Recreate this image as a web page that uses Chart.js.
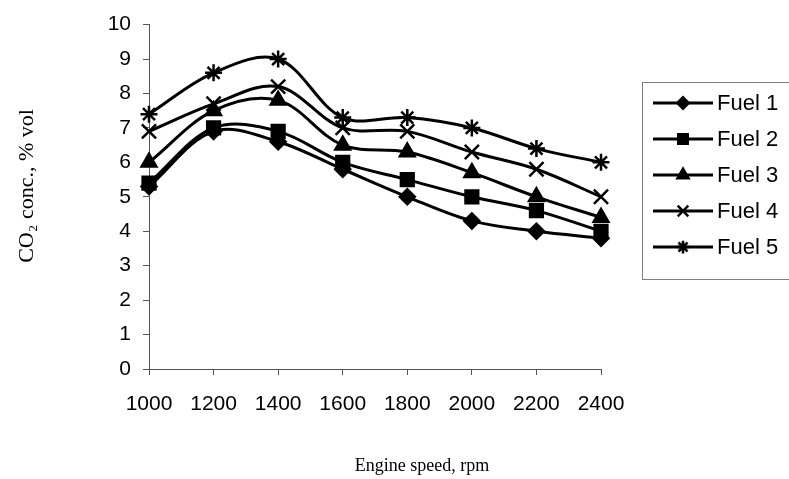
<!DOCTYPE html>
<html>
<head>
<meta charset="utf-8">
<script src="https://cdn.jsdelivr.net/npm/chart.js@4"></script>
<style>
  html, body { margin: 0; padding: 0; background: #fff; }
  #wrap { width: 789px; height: 479px; }
</style>
</head>
<body>
<div id="wrap"><canvas id="grafico" width="789" height="479"></canvas></div>
<script>
// datos
const rpm = [1000, 1200, 1400, 1600, 1800, 2000, 2200, 2400];
const fuel1 = [5.3, 6.9, 6.6, 5.8, 5.0, 4.3, 4.0, 3.8];
const fuel2 = [5.4, 7.0, 6.9, 6.0, 5.5, 5.0, 4.6, 4.0];
const fuel3 = [6.0, 7.5, 7.8, 6.5, 6.3, 5.7, 5.0, 4.4];
const fuel4 = [6.9, 7.7, 8.2, 7.0, 6.9, 6.3, 5.8, 5.0];
const fuel5 = [7.4, 8.6, 9.0, 7.3, 7.3, 7.0, 6.4, 6.0];
const nombres = ['Fuel 1', 'Fuel 2', 'Fuel 3', 'Fuel 4', 'Fuel 5'];
const marcas = ['rectRot', 'rect', 'triangle', 'crossRot', 'star'];
const tamanos = [7.5, 9, 8.5, 10, 8.5];

const series = [fuel1, fuel2, fuel3, fuel4, fuel5];

const datasets = series.map((valores, i) => ({
    label: nombres[i],
    data: valores.map((v, j) => ({ x: rpm[j], y: v })),
    borderColor: '#000',
    backgroundColor: '#000',
    borderWidth: 3,
    tension: 0.35,
    pointStyle: marcas[i],
    pointRadius: tamanos[i],
    pointBorderWidth: 2.5,
    clip: false
}));

// titulos de ejes y leyenda dibujados a mano
const extras = {
    id: 'extras',
    afterDraw(chart) {
        const ctx = chart.ctx;
        ctx.save();
        ctx.fillStyle = '#000';
        ctx.font = '18px "Liberation Serif", "Times New Roman", serif';
        ctx.textAlign = 'center';
        ctx.textBaseline = 'middle';
        ctx.fillText('Engine speed, rpm', 422, 466);

        ctx.font = '22px "Liberation Serif", "Times New Roman", serif';
        ctx.translate(27, 186);
        ctx.rotate(-Math.PI / 2);
        ctx.fillText('CO\u2082 conc., % vol', 0, 0);
        ctx.restore();

        // leyenda
        ctx.save();
        ctx.strokeStyle = '#808080';
        ctx.lineWidth = 1;
        ctx.strokeRect(642.5, 82.5, 200, 197);
        chart.data.datasets.forEach((ds, i) => {
            const y = 103 + i * 36;
            ctx.strokeStyle = '#000';
            ctx.fillStyle = '#000';
            ctx.lineWidth = 3;
            ctx.beginPath();
            ctx.moveTo(653, y);
            ctx.lineTo(713, y);
            ctx.stroke();
            ctx.lineWidth = 2.5;
            Chart.helpers.drawPoint(ctx, {
                pointStyle: ds.pointStyle,
                radius: ds.pointRadius * 0.75,
                borderWidth: 2.5,
                rotation: 0
            }, 683, y);
            ctx.font = '22px "Liberation Sans", Arial, sans-serif';
            ctx.textAlign = 'left';
            ctx.textBaseline = 'middle';
            ctx.fillText(ds.label, 717, y + 1);
        });
        ctx.restore();
    }
};

new Chart(document.getElementById('grafico').getContext('2d'), {
    type: 'line',
    data: { datasets: datasets },
    options: {
        responsive: false,
        animation: false,
        layout: { padding: { top: 24, right: 188, left: 0, bottom: 0 } },
        plugins: { legend: { display: false }, tooltip: { enabled: false } },
        scales: {
            x: {
                type: 'linear',
                min: 1000,
                max: 2400,
                afterFit(scale) { scale.height = 110; },
                grid: { drawOnChartArea: false, drawTicks: true, tickLength: 6, color: '#555' },
                border: { display: true, color: '#555', width: 1 },
                ticks: {
                    stepSize: 200,
                    color: '#000',
                    padding: 17,
                    maxRotation: 0,
                    callback: (v) => String(v),
                    font: { family: '"Liberation Sans", Arial, sans-serif', size: 21 }
                }
            },
            y: {
                min: 0,
                max: 10,
                afterFit(scale) { scale.width = 149; },
                grid: { drawOnChartArea: false, drawTicks: true, tickLength: 6, color: '#555' },
                border: { display: true, color: '#555', width: 1 },
                ticks: {
                    stepSize: 1,
                    color: '#000',
                    padding: 12,
                    font: { family: '"Liberation Sans", Arial, sans-serif', size: 21 }
                }
            }
        }
    },
    plugins: [extras]
});
</script>
</body>
</html>
